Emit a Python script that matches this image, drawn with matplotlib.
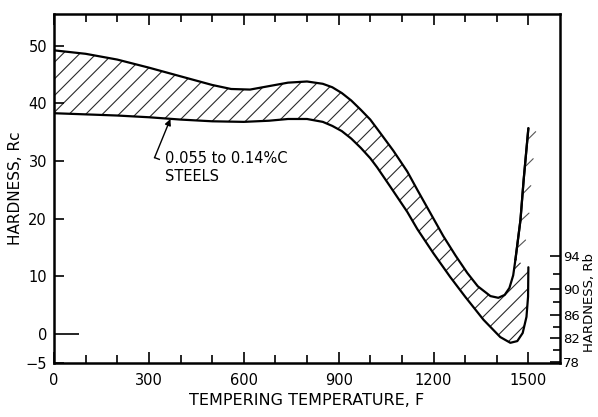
import matplotlib
matplotlib.use("Agg")
import matplotlib.pyplot as plt
import matplotlib.patheffects as pe

# ---- data ----
# upper boundary of the band (Rc) vs tempering temperature (F)
upper_F  = [0, 100, 200, 300, 400, 500, 560, 620, 680, 740, 800, 850, 880, 910, 940, 970,
            1000, 1030, 1073, 1117, 1149, 1190, 1231, 1270, 1307, 1340, 1380, 1405, 1425,
            1440, 1452, 1459]
upper_Rc = [49.2, 48.6, 47.6, 46.2, 44.7, 43.2, 42.5, 42.4, 43.0, 43.6, 43.8, 43.4, 42.8, 41.8,
            40.5, 38.9, 37.2, 35.0, 31.8, 28.2, 25.0, 21.0, 17.0, 13.6, 10.6, 8.3, 6.6, 6.3,
            6.8, 8.0, 10.2, 12.9]
# steep rising part of the upper boundary
steep_F  = [1459, 1475, 1485, 1500]
steep_Rc = [12.9, 19.8, 26.7, 35.7]
# lower boundary of the band
lower_F  = [0, 100, 200, 300, 400, 500, 600, 680, 740, 800, 850, 880, 910, 940, 970, 1000,
            1022, 1063, 1117, 1149, 1200, 1253, 1300, 1358, 1411, 1443, 1465, 1482, 1494,
            1499, 1500]
lower_Rc = [38.3, 38.1, 37.9, 37.6, 37.2, 36.9, 36.8, 37.0, 37.3, 37.3, 36.8, 36.1, 35.2, 33.9,
            32.3, 30.5, 28.9, 25.6, 21.2, 18.2, 14.0, 9.9, 6.5, 2.5, -0.5, -1.5, -1.2, 0.2,
            3.0, 6.5, 11.6]

x_major = [0, 300, 600, 900, 1200, 1500]
x_labels = ["0", "300", "600", "900", "1200", "1500"]
x_minor = [100, 200, 400, 500, 700, 800, 1000, 1100, 1300, 1400]
rc_ticks = [-5, 0, 10, 20, 30, 40, 50]
rc_labels = ["\u22125", "0", "10", "20", "30", "40", "50"]
# Rockwell B scale, placed at its Rc-equivalent height
rb_labels = ["78", "82", "86", "90", "94"]
rb_pos_rc = [-4.8, -0.7, 3.3, 7.8, 13.5]
rb_minor_pos_rc = [-2.8, 1.3, 5.5, 10.5]

annot_text = "0.055 to 0.14%C\nSTEELS"

plt.rcParams['font.family'] = ['DejaVu Sans']
plt.rcParams['hatch.linewidth'] = 0.8

fig = plt.figure(figsize=(5.98, 4.17), dpi=100)
ax = fig.add_axes([54/598, 54/417, 506/598, 349/417])
ax.set_xlim(0, 1600)
ax.set_ylim(-5, 55.5)

# hatched band
poly_F = list(upper_F) + list(lower_F[::-1])
poly_R = list(upper_Rc) + list(lower_Rc[::-1])
ax.fill(poly_F, poly_R, facecolor='none', edgecolor='#2a2a2a', hatch='//', linewidth=0)

line_kw = dict(color='black', lw=1.6, solid_capstyle='round', solid_joinstyle='round')
ax.plot(upper_F, upper_Rc, **line_kw)
ax.plot(lower_F, lower_Rc, **line_kw)
ax.plot(steep_F, steep_Rc,
        path_effects=[pe.withTickedStroke(spacing=17, angle=-40, length=0.5,
                                          linewidth=0.8, foreground='#555555'),
                      pe.Normal()], **line_kw)

# annotation
ax.text(352, 28.9, annot_text, ha='left', va='center', fontsize=10.5, linespacing=1.25)
ax.annotate('', xy=(368, 37.3), xytext=(318, 30.6),
            arrowprops=dict(arrowstyle='-|>', lw=1.0, color='black',
                            shrinkA=0, shrinkB=0, mutation_scale=9))
ax.plot([318, 333], [30.6, 30.3], color='black', lw=1.0)

# axes styling
for s in ax.spines.values():
    s.set_linewidth(1.8)
ax.set_xticks(x_major, x_labels)
ax.set_xticks(x_minor, minor=True)
ax.set_yticks(rc_ticks, rc_labels)
ax.tick_params(axis='x', which='major', direction='in', length=8, width=1.2,
               top=True, labelsize=10.5, pad=7)
ax.tick_params(axis='x', which='minor', direction='in', length=5.5, width=1.2, top=True)
ax.tick_params(axis='y', which='major', direction='in', length=7, width=1.2,
               right=True, labelright=False, labelsize=10.5, pad=5)
ax.set_xlabel("TEMPERING TEMPERATURE, F", fontsize=11.5, labelpad=4)
ax.set_ylabel("HARDNESS, Rc", fontsize=11, labelpad=2)

ax2 = ax.twinx()
ax2.set_ylim(ax.get_ylim())
ax2.set_yticks(rb_pos_rc, rb_labels)
ax2.set_yticks(rb_minor_pos_rc, minor=True)
ax2.tick_params(axis='y', which='major', direction='in', length=7, width=1.2,
                labelsize=9.5, pad=2)
ax2.tick_params(axis='y', which='minor', direction='in', length=5, width=1.2)
for s in ax2.spines.values():
    s.set_visible(False)

# long zero ticks
zt = ax.yaxis.get_major_ticks()[1]
zt.tick1line.set_markersize(18)
zt.tick2line.set_markersize(20)

fig.text(590/598, 1 - 302/417, "HARDNESS, Rb", rotation=90, ha='center', va='center',
         fontsize=9.5)

fig.savefig("out.png", dpi=100, facecolor='white')
